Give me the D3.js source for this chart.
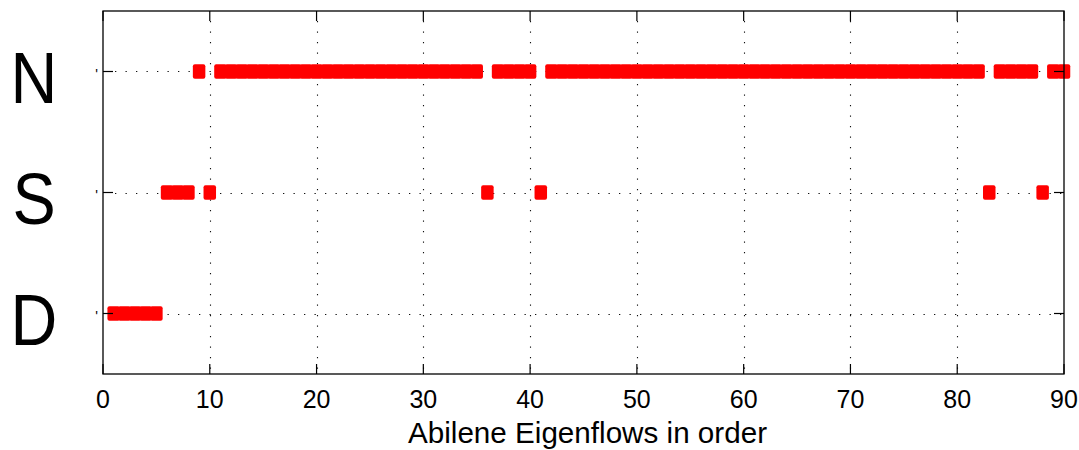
<!DOCTYPE html>
<html>
<head>
<meta charset="utf-8">
<script src="https://cdn.jsdelivr.net/npm/d3@7"></script>
<style>
  html, body { margin: 0; padding: 0; background: #fff; }
  svg { display: block; }
  text { font-family: "Liberation Sans", Arial, Helvetica, sans-serif; fill: #000; }
</style>
</head>
<body>
<svg id="chart" width="1079" height="450"></svg>
<script>
// Traffic class of each Abilene eigenflow (1..90): D, S or N
const categories = ["D", "S", "N"];
const dFlows = [1, 2, 3, 4, 5];
const sFlows = [6, 7, 8, 10, 36, 41, 83, 88];
const nFlows = [9,
  11, 12, 13, 14, 15, 16, 17, 18, 19, 20, 21, 22, 23, 24, 25, 26, 27, 28, 29, 30,
  31, 32, 33, 34, 35,
  37, 38, 39, 40,
  42, 43, 44, 45, 46, 47, 48, 49, 50, 51, 52, 53, 54, 55, 56, 57, 58, 59, 60,
  61, 62, 63, 64, 65, 66, 67, 68, 69, 70, 71, 72, 73, 74, 75, 76, 77, 78, 79, 80,
  81, 82,
  84, 85, 86, 87,
  89, 90];
const xTicks = [0, 10, 20, 30, 40, 50, 60, 70, 80, 90];
const xLabel = "Abilene Eigenflows in order";

const points = [
  ...dFlows.map(i => ({ i, c: "D" })),
  ...sFlows.map(i => ({ i, c: "S" })),
  ...nFlows.map(i => ({ i, c: "N" }))
];

const W = 1079, H = 450;
const m = { left: 103, right: 1079 - 1064, top: 11, bottom: 450 - 374 };
const svg = d3.select("#chart");

const x = d3.scaleLinear().domain([0, 90]).range([m.left, W - m.right]);
const y = d3.scaleLinear().domain([0.5, 3.5]).range([H - m.bottom, m.top]);
const yOf = c => y(categories.indexOf(c) + 1);

const x0 = x.range()[0], x1 = x.range()[1];
const y0 = y.range()[0], y1 = y.range()[1];

// dotted grid
const grid = svg.append("g").attr("stroke", "#111").attr("stroke-width", 1.1)
  .attr("stroke-dasharray", "1.3,9.2").attr("fill", "none");
grid.selectAll("line.v").data(xTicks.filter(t => t > 0 && t < 90)).join("line")
  .attr("class", "v")
  .attr("x1", d => Math.round(x(d)) + 0.5).attr("x2", d => Math.round(x(d)) + 0.5)
  .attr("y1", y1 + 10).attr("y2", y0);
grid.selectAll("line.h").data(categories).join("line")
  .attr("class", "h")
  .attr("x1", x0 + 12).attr("x2", x1)
  .attr("y1", d => Math.round(yOf(d)) + 0.5).attr("y2", d => Math.round(yOf(d)) + 0.5);

// markers
const mw = 12.5, mh = 14.5;
svg.append("g").selectAll("rect").data(points).join("rect")
  .attr("x", d => x(d.i) - mw / 2)
  .attr("y", d => yOf(d.c) - mh / 2)
  .attr("width", mw).attr("height", mh)
  .attr("rx", 2).attr("ry", 2)
  .attr("fill", "#ff0000");

// frame
svg.append("rect")
  .attr("x", x0).attr("y", y1)
  .attr("width", x1 - x0).attr("height", y0 - y1)
  .attr("fill", "none").attr("stroke", "#000").attr("stroke-width", 1.3);

// inward ticks
const tl = 10;
const ticks = svg.append("g").attr("stroke", "#000").attr("stroke-width", 1.2);
xTicks.forEach(t => {
  const px = x(t);
  ticks.append("line").attr("x1", px).attr("x2", px).attr("y1", y0).attr("y2", y0 - tl);
  ticks.append("line").attr("x1", px).attr("x2", px).attr("y1", y1).attr("y2", y1 + tl);
});
categories.forEach(c => {
  const py = yOf(c);
  ticks.append("line").attr("x1", x0).attr("x2", x0 + tl).attr("y1", py).attr("y2", py);
  ticks.append("line").attr("x1", x1).attr("x2", x1 - tl).attr("y1", py).attr("y2", py);
});

// x tick labels
svg.append("g").selectAll("text").data(xTicks).join("text")
  .attr("x", d => x(d)).attr("y", 408)
  .attr("text-anchor", "middle")
  .attr("font-size", 25)
  .text(d => d);

// x axis title
svg.append("text")
  .attr("x", 587.5).attr("y", 443)
  .attr("text-anchor", "middle")
  .attr("font-size", 30)
  .attr("textLength", 359).attr("lengthAdjust", "spacingAndGlyphs")
  .text(xLabel);

// small marks left of the axis
svg.append("g").selectAll("text").data(categories).join("text")
  .attr("x", 96.5).attr("y", d => yOf(d) + 7)
  .attr("text-anchor", "middle")
  .attr("font-size", 14)
  .attr("fill", "#333")
  .text("'");

// category letters
svg.append("g").selectAll("text").data(categories).join("text")
  .attr("transform", d => `translate(34,${yOf(d) + 31}) scale(0.9,1)`)
  .attr("text-anchor", "middle")
  .attr("font-size", 72)
  .text(d => d);
</script>
</body>
</html>
